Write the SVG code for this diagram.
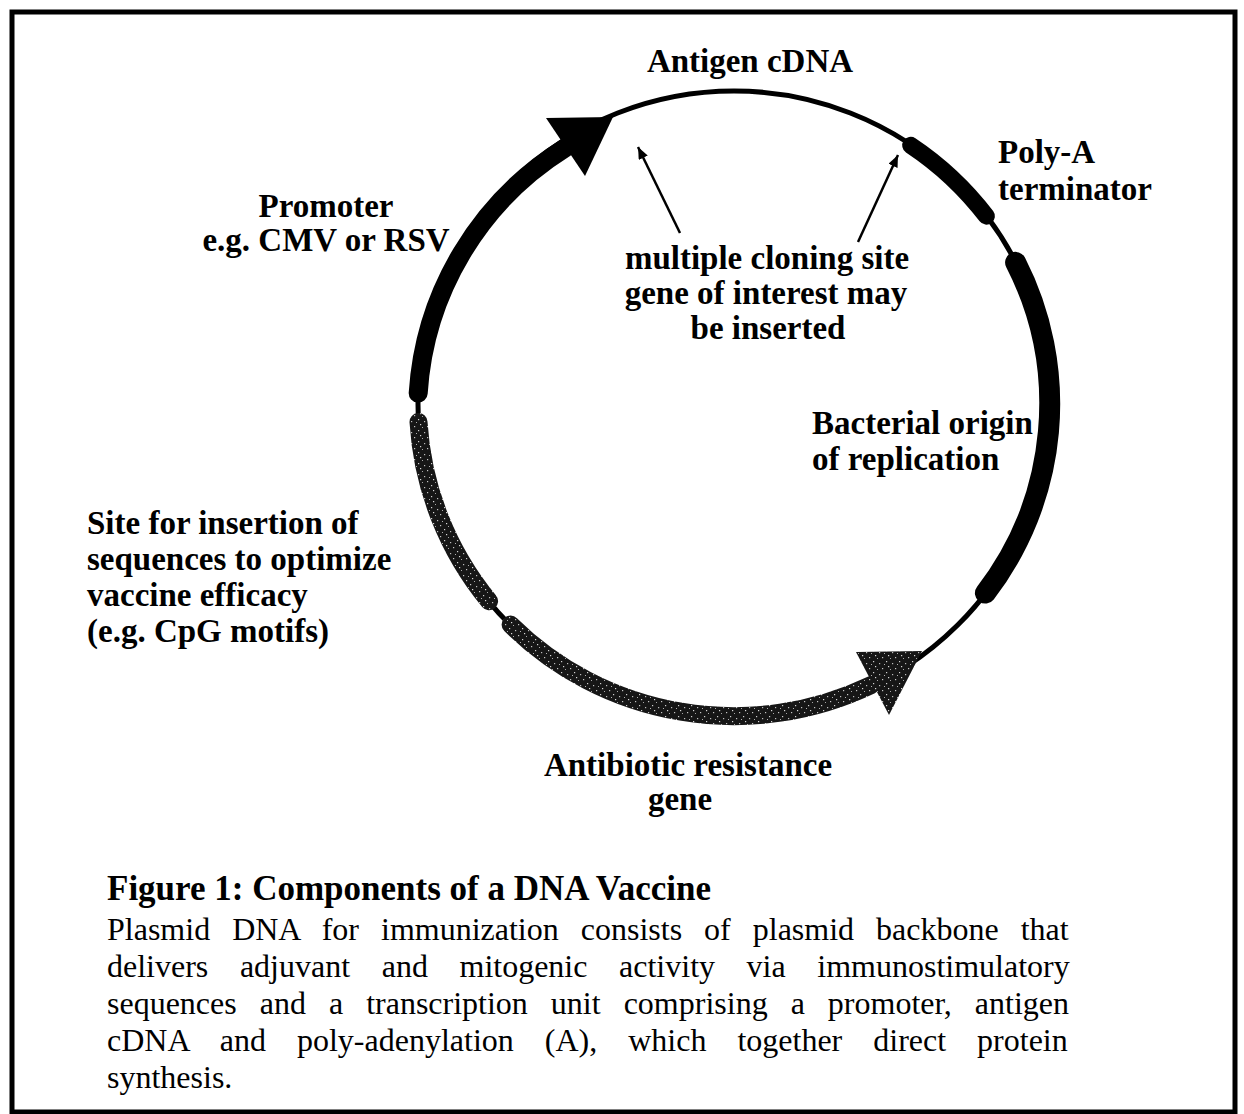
<svg xmlns="http://www.w3.org/2000/svg" width="1244" height="1114" viewBox="0 0 1244 1114">
  <style>
    .lbl { font-family: "Liberation Serif", "Times New Roman", serif; font-weight: bold; font-size: 33px; fill: #000; }
    .cap { font-family: "Liberation Serif", "Times New Roman", serif; font-weight: bold; font-size: 35px; fill: #000; }
    .body { font-family: "Liberation Serif", "Times New Roman", serif; font-size: 32px; fill: #000; }
    .mid { text-anchor: middle; }
    .thin { fill: none; stroke: #000; stroke-width: 5; }
    .band { fill: none; stroke: #000; stroke-linecap: round; }
    .stip { fill: none; stroke: url(#stipple); stroke-linecap: round; }
    .ptr { stroke: #000; stroke-width: 2.5; fill: none; marker-end: url(#ah); }
  </style>
  <defs>
    <pattern id="stipple" patternUnits="userSpaceOnUse" width="13" height="11">
      <rect width="13" height="11" fill="#161616"/>
      <rect x="2" y="1" width="1.2" height="1.2" fill="#cfcfcf"/>
      <rect x="8" y="3" width="1.2" height="1.2" fill="#bdbdbd"/>
      <rect x="4" y="6" width="1.2" height="1.2" fill="#d8d8d8"/>
      <rect x="11" y="8" width="1.2" height="1.2" fill="#c4c4c4"/>
      <rect x="6" y="9" width="1" height="1" fill="#a8a8a8"/>
      <rect x="0" y="4" width="1" height="1" fill="#b0b0b0"/>
    </pattern>
    <marker id="ah" markerUnits="userSpaceOnUse" markerWidth="14" markerHeight="12" refX="12" refY="5" orient="auto">
      <path d="M0,0 L12,5 L0,10 Z" fill="#000"/>
    </marker>
  </defs>

  <g id="frame">
    <rect x="12" y="12" width="1223" height="1100" fill="none" stroke="#000" stroke-width="5"/>
  </g>

  <g id="plasmid-backbone">
    <ellipse cx="734" cy="404" rx="316" ry="313" class="thin"/>
  </g>

  <g id="promoter">
    <path class="band" stroke-width="19" d="M418.2,393.1 A316,313 0 0 1 565,148"/>
    <path d="M546,118 L585,176 L613,117 Z" fill="#000"/>
    <text class="lbl mid" x="326" y="217">Promoter</text>
    <text class="lbl mid" x="326" y="251">e.g. CMV or RSV</text>
  </g>

  <g id="antigen-cdna">
    <text class="lbl mid" x="750" y="72">Antigen cDNA</text>
  </g>

  <g id="poly-a">
    <path class="band" stroke-width="17" d="M910.7,145.3 A316,313 0 0 1 986.4,216.2"/>
    <text class="lbl" x="998" y="163">Poly-A</text>
    <text class="lbl" x="998" y="200">terminator</text>
  </g>

  <g id="origin">
    <path class="band" stroke-width="21" d="M1015.6,262.4 A316,313 0 0 1 985.4,593.1"/>
    <text class="lbl" x="812" y="434">Bacterial origin</text>
    <text class="lbl" x="812" y="470">of replication</text>
  </g>

  <g id="antibiotic-resistance">
    <path class="stip" stroke-width="18" d="M871,685.1 A316,313 0 0 1 510.6,624.6"/>
    <path d="M856,652 L889,715 L922,651 Z" fill="url(#stipple)"/>
    <text class="lbl mid" x="688" y="776">Antibiotic resistance</text>
    <text class="lbl mid" x="680" y="810">gene</text>
  </g>

  <g id="cpg-site">
    <path class="stip" stroke-width="18" d="M489.1,601.2 A316,313 0 0 1 418.5,422"/>
    <text class="lbl" x="87" y="534">Site for insertion of</text>
    <text class="lbl" x="87" y="570">sequences to optimize</text>
    <text class="lbl" x="87" y="606">vaccine efficacy</text>
    <text class="lbl" x="87" y="642">(e.g. CpG motifs)</text>
  </g>

  <g id="mcs">
    <text class="lbl mid" x="767" y="269">multiple cloning site</text>
    <text class="lbl mid" x="766" y="304">gene of interest may</text>
    <text class="lbl mid" x="768" y="339">be inserted</text>
  </g>

  <g id="connectors">
    <line class="ptr" x1="680" y1="233" x2="638" y2="147"/>
    <line class="ptr" x1="858" y1="242" x2="898" y2="155"/>
  </g>

  <g id="caption">
    <text class="cap" x="107" y="900">Figure 1: Components of a DNA Vaccine</text>
    <text class="body" x="107" y="940" word-spacing="14">Plasmid DNA for immunization consists of plasmid backbone that</text>
    <text class="body" x="107" y="977" word-spacing="23.6">delivers adjuvant and mitogenic activity via immunostimulatory</text>
    <text class="body" x="107" y="1014" word-spacing="15">sequences and a transcription unit comprising a promoter, antigen</text>
    <text class="body" x="107" y="1051" word-spacing="23">cDNA and poly-adenylation (A), which together direct protein</text>
    <text class="body" x="107" y="1088">synthesis.</text>
  </g>
</svg>
